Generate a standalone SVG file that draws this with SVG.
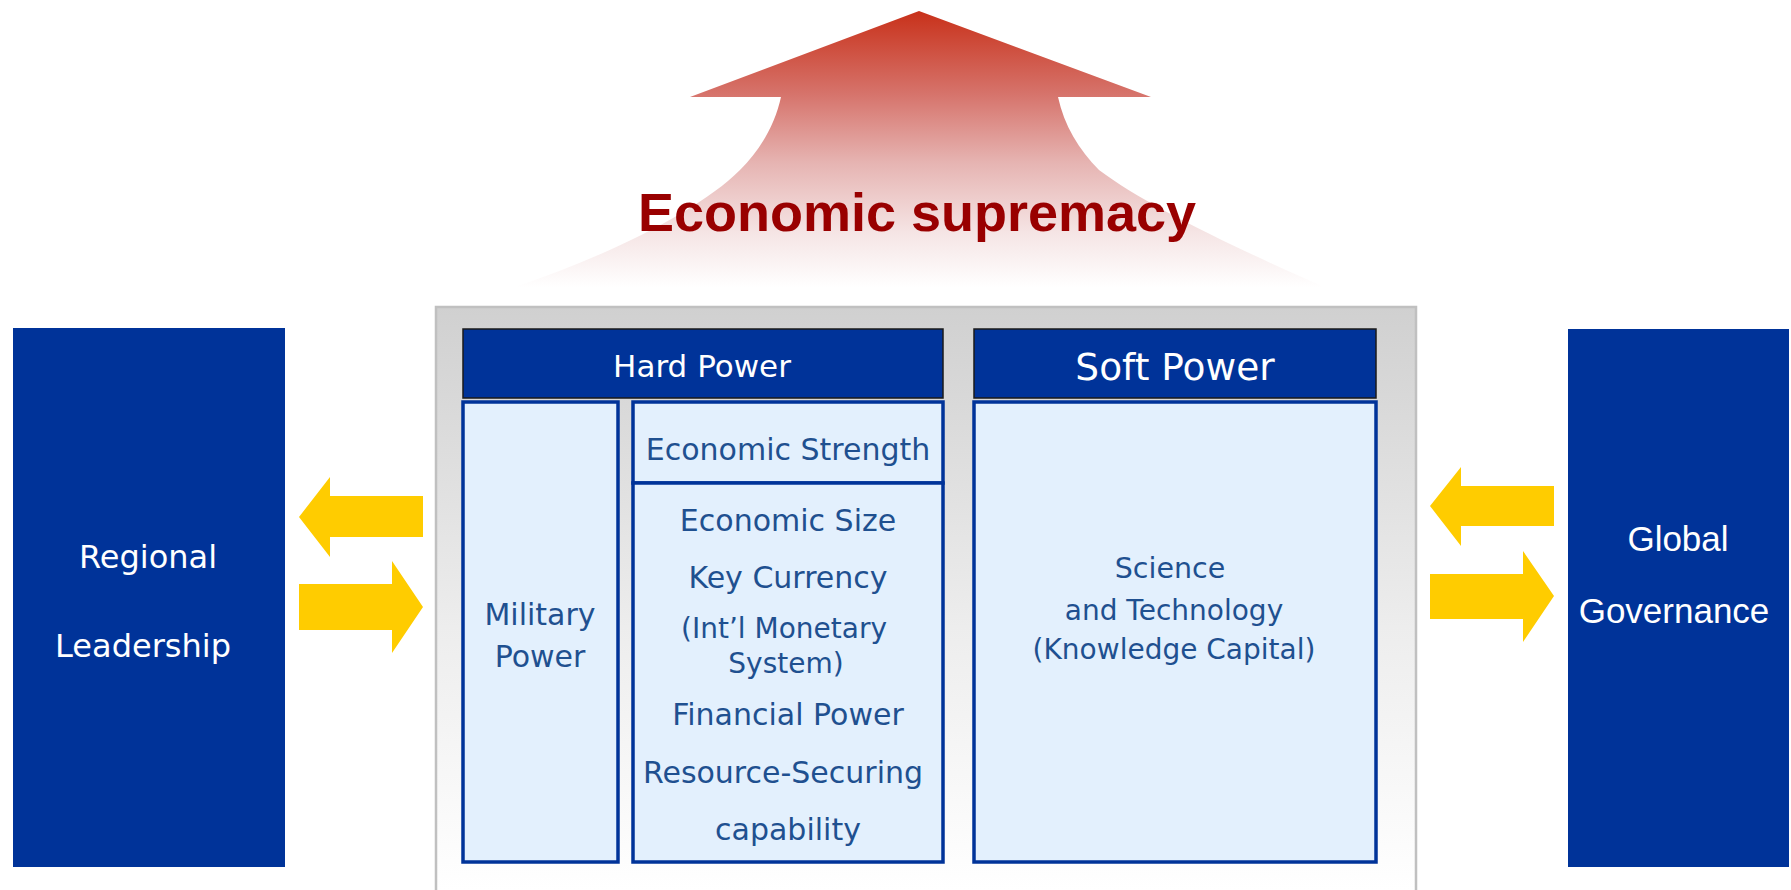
<svg xmlns="http://www.w3.org/2000/svg" width="1791" height="890" viewBox="0 0 1791 890">
  <defs>
    <linearGradient id="riseGrad" x1="0" y1="11" x2="0" y2="287" gradientUnits="userSpaceOnUse">
      <stop offset="0" stop-color="#C8311A"/>
      <stop offset="0.3" stop-color="#D6736B"/>
      <stop offset="0.55" stop-color="#E6B4B2"/>
      <stop offset="0.8" stop-color="#F5E4E4"/>
      <stop offset="1" stop-color="#FFFFFF"/>
    </linearGradient>
    <linearGradient id="frameGrad" x1="0" y1="306" x2="0" y2="890" gradientUnits="userSpaceOnUse">
      <stop offset="0" stop-color="#D0D0D0"/>
      <stop offset="0.55" stop-color="#EDEDED"/>
      <stop offset="1" stop-color="#FFFFFF"/>
    </linearGradient>
    <style>
      .side { fill: #003399; }
      .head { fill: #003399; stroke: #1A1A1A; stroke-width: 1.5; }
      .cell { fill: #E3F0FD; stroke: #003399; stroke-width: 3.5; }
      .flow { fill: #FFCC00; }
      .white { fill: #FFFFFF; font-family: "DejaVu Sans", Verdana, sans-serif; text-anchor: middle; }
      .body { fill: #1F5090; font-family: "DejaVu Sans", Verdana, sans-serif; text-anchor: middle; }
    </style>
  </defs>

  <!-- upward arrow with title -->
  <g id="supremacy">
    <path d="M919,11 L1151,97 L1058,97 C1064,125 1079,150 1099,170 C1145,205 1240,250 1324,287 L515,287 C610,255 700,210 740,170 C760,150 775,125 781,97 L690,97 Z" fill="url(#riseGrad)"/>
    <text x="917" y="231" fill="#990000" font-family="'Liberation Sans', Arial, sans-serif" font-weight="bold" font-size="54" text-anchor="middle" textLength="558" lengthAdjust="spacingAndGlyphs">Economic supremacy</text>
  </g>

  <!-- central frame -->
  <g id="frame">
    <path d="M436,890 L436,307 L1416,307 L1416,890" fill="url(#frameGrad)" stroke="#C0C0C0" stroke-width="2.5"/>
  </g>

  <g id="hard-power">
    <rect class="head" x="463" y="329" width="480" height="69"/>
    <text class="white" x="702" y="377" font-size="31">Hard Power</text>
  </g>

  <g id="soft-power">
    <rect class="head" x="974" y="329" width="402" height="69"/>
    <text class="white" x="1175" y="380" font-size="37.5">Soft Power</text>
  </g>

  <g id="military-power">
    <rect class="cell" x="463" y="402" width="155" height="460"/>
    <text class="body" x="540" y="625" font-size="30">Military</text>
    <text class="body" x="540" y="667" font-size="30">Power</text>
  </g>

  <g id="economic-strength">
    <rect class="cell" x="633" y="402" width="310" height="81"/>
    <text class="body" x="788" y="460" font-size="30">Economic Strength</text>
  </g>

  <g id="economic-factors">
    <rect class="cell" x="633" y="483" width="310" height="379"/>
    <text class="body" x="788" y="531" font-size="30">Economic Size</text>
    <text class="body" x="788" y="588" font-size="30">Key Currency</text>
    <text class="body" x="784" y="638" font-size="28">(Int’l Monetary</text>
    <text class="body" x="786" y="673" font-size="28">System)</text>
    <text class="body" x="788" y="725" font-size="30">Financial Power</text>
    <text class="body" x="783" y="783" font-size="30">Resource-Securing</text>
    <text class="body" x="788" y="840" font-size="30">capability</text>
  </g>

  <g id="science-technology">
    <rect class="cell" x="974" y="402" width="402" height="460"/>
    <text class="body" x="1170" y="578" font-size="28.5">Science</text>
    <text class="body" x="1174" y="620" font-size="28">and Technology</text>
    <text class="body" x="1174" y="659" font-size="28">(Knowledge Capital)</text>
  </g>

  <g id="regional-leadership">
    <rect class="side" x="13" y="328" width="272" height="539"/>
    <text class="white" x="148" y="568" font-size="32">Regional</text>
    <text class="white" x="143" y="657" font-size="32">Leadership</text>
  </g>

  <g id="global-governance">
    <rect class="side" x="1568" y="329" width="221" height="538"/>
    <text x="1678" y="551" fill="#FFFFFF" font-family="'Liberation Sans', Arial, sans-serif" font-size="35" text-anchor="middle">Global</text>
    <text x="1674" y="623" fill="#FFFFFF" font-family="'Liberation Sans', Arial, sans-serif" font-size="35" text-anchor="middle">Governance</text>
  </g>

  <!-- two-way flows between the frame and the side blocks -->
  <g id="connectors">
    <path class="flow" d="M299,517 L330,477 L330,496 L423,496 L423,537 L330,537 L330,557 Z"/>
    <path class="flow" d="M299,584 L392,584 L392,561 L423,607 L392,653 L392,630 L299,630 Z"/>
    <path class="flow" d="M1430,506 L1461,467 L1461,486 L1554,486 L1554,526 L1461,526 L1461,546 Z"/>
    <path class="flow" d="M1430,574 L1523,574 L1523,551 L1554,596 L1523,642 L1523,619 L1430,619 Z"/>
  </g>
</svg>
